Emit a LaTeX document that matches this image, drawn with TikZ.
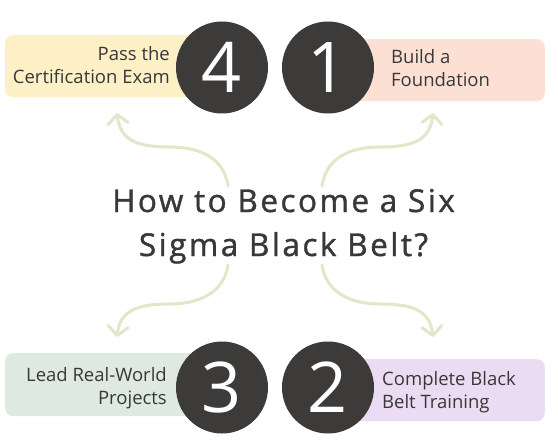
\documentclass[tikz,border=0pt]{standalone}
\usepackage{fontspec}
\setmainfont{Open Sans}
\newfontfamily\titlefont[LetterSpace=8,FakeBold=1.2]{Open Sans}
\usetikzlibrary{arrows.meta}
\definecolor{boxyellow}{HTML}{FDF0C7}
\definecolor{boxpink}{HTML}{FDE0D4}
\definecolor{boxgreen}{HTML}{DEEAE1}
\definecolor{boxpurple}{HTML}{ECDCF3}
\definecolor{discdark}{HTML}{3D3A3A}
\definecolor{inkdark}{HTML}{383838}
\definecolor{swirl}{HTML}{E4E6C9}
\tikzset{
  stepcard/.style={rounded corners=8pt, minimum width=225pt, minimum height=62pt, inner sep=0pt, draw=none},
  disc/.style={circle, fill=discdark, minimum size=92pt, inner sep=0pt, text=white, font=\fontsize{70}{70}\selectfont},
  cardtext/.style={text=inkdark, font=\fontsize{18.5}{23}\selectfont, inner sep=0pt},
  titletext/.style={text=inkdark, font=\titlefont\fontsize{31.5}{44}\selectfont, inner sep=0pt, anchor=base},
  swirlline/.style={draw=swirl, line width=3pt, line cap=round, -{Straight Barb[length=9pt,width=20pt,round]}}
}
\begin{document}
\begin{tikzpicture}[x=1pt,y=-1pt]
\useasboundingbox (0,0) rectangle (558,444);
\fill[white] (0,0) rectangle (558,444);
% cards
\node[stepcard, fill=boxyellow, anchor=north west] (cardfour) at (5,35) {};
\node[stepcard, fill=boxpink, anchor=north east] (cardone) at (545,39) {};
\node[stepcard, fill=boxgreen, anchor=north west, minimum height=63pt] (cardthree) at (5,353) {};
\node[stepcard, fill=boxpurple, anchor=north east] (cardtwo) at (545,359) {};
% card texts
\node[cardtext, anchor=base east] (tfoura) at (170,61) {Pass the};
\node[cardtext, anchor=base east] (tfourb) at (170,84) {Certification Exam};
\node[cardtext, anchor=base west] (tonea) at (391,64) {Build a};
\node[cardtext, anchor=base west] (toneb) at (391,87) {Foundation};
\node[cardtext, anchor=base east] (tthreea) at (167,381) {Lead Real-World};
\node[cardtext, anchor=base east] (tthreeb) at (167,404) {Projects};
\node[cardtext, anchor=base west] (ttwoa) at (382,385) {Complete Black};
\node[cardtext, anchor=base west] (ttwob) at (382,408) {Belt Training};
% discs
\node[disc] (dfour) at (222,67.5) {4};
\node[disc] (done) at (328,67.5) {1};
\node[disc] (dthree) at (222,387.5) {3};
\node[disc] (dtwo) at (328,387.5) {2};
% title
\node[titletext] (titlea) at (283.5,212) {How to Become a Six};
\node[titletext] (titleb) at (283.5,256) {Sigma Black Belt?};
% swirl arrows
\coordinate (sTL) at (228,186);
\coordinate (eTL) at (117,113);
\coordinate (sTR) at (322,186);
\coordinate (eTR) at (433,113);
\coordinate (sBL) at (228,265);
\coordinate (eBL) at (117,337);
\coordinate (sBR) at (322,265);
\coordinate (eBR) at (433,337);
\draw[swirlline] (sTL) .. controls (224,158) and (200,147) .. (170,147) .. controls (140,147) and (120,142) .. (eTL);
\draw[swirlline] (sTR) .. controls (326,158) and (350,147) .. (380,147) .. controls (410,147) and (430,142) .. (eTR);
\draw[swirlline] (sBL) .. controls (224,292) and (200,304) .. (170,304) .. controls (140,304) and (120,309) .. (eBL);
\draw[swirlline] (sBR) .. controls (326,292) and (350,304) .. (380,304) .. controls (410,304) and (430,309) .. (eBR);
\end{tikzpicture}
\end{document}
